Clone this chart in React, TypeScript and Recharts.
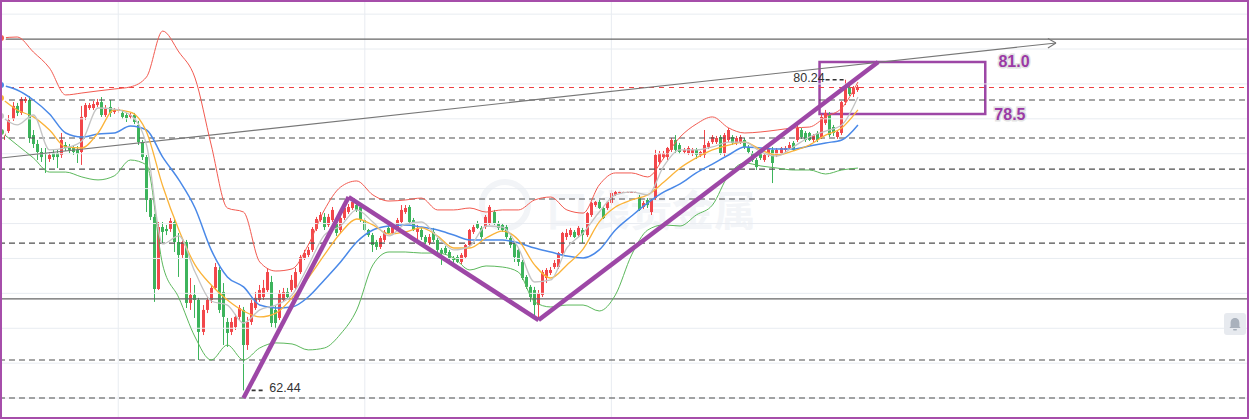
import React from 'react';
import {
  ComposedChart,
  Bar,
  Line,
  XAxis,
  YAxis,
  ReferenceLine,
  ReferenceArea,
  ReferenceDot,
} from 'recharts';

const W = 1249;
const H = 419;
const SLOTS = 309;

// [open, high, low, close]
const candles: [number, number, number, number][] = [
  [77.30, 77.48, 76.79, 76.96], [77.02, 77.42, 76.79, 77.30], [77.30, 78.22, 77.19, 77.93], [77.99, 78.96, 77.88, 78.74],
  [78.74, 78.91, 78.16, 78.34], [78.34, 79.25, 78.22, 79.14], [79.02, 79.25, 78.91, 79.14], [79.08, 79.31, 76.62, 76.90],
  [77.07, 77.36, 76.33, 76.56], [76.56, 76.79, 75.64, 76.10], [76.10, 76.33, 75.53, 75.81], [76.04, 76.33, 74.90, 75.99],
  [75.70, 76.10, 75.53, 75.93], [76.04, 76.22, 75.64, 75.81], [76.04, 76.22, 75.18, 75.81], [75.93, 77.19, 75.76, 76.79],
  [76.50, 76.67, 76.16, 76.33], [76.39, 76.56, 76.04, 76.22], [76.33, 76.44, 75.93, 76.10], [76.22, 76.44, 75.47, 75.99],
  [76.10, 78.74, 75.36, 78.11], [78.11, 78.91, 77.93, 78.79], [78.62, 78.91, 78.51, 78.79], [78.62, 79.02, 78.51, 78.85],
  [78.79, 79.14, 78.68, 78.96], [78.96, 79.25, 78.11, 78.22], [78.22, 78.79, 78.11, 78.62], [78.68, 79.08, 78.11, 78.34],
  [78.39, 78.62, 78.28, 78.51], [78.45, 78.68, 78.34, 78.56], [78.34, 78.45, 77.99, 78.11], [78.22, 78.34, 77.82, 78.05],
  [78.11, 78.34, 77.99, 78.22], [78.22, 78.34, 77.70, 77.82], [77.65, 77.88, 76.50, 76.67], [76.67, 76.79, 75.64, 75.81],
  [75.81, 75.93, 72.66, 73.35], [73.35, 73.46, 72.20, 72.38], [72.38, 72.55, 67.51, 68.25], [68.25, 72.09, 68.19, 71.80],
  [71.80, 72.09, 70.89, 71.52], [71.69, 71.92, 71.34, 71.57], [71.69, 72.32, 71.52, 72.15], [72.09, 72.32, 70.37, 70.94],
  [70.94, 71.46, 68.94, 70.20], [70.20, 71.06, 70.03, 70.94], [70.94, 71.06, 67.16, 67.45], [67.45, 68.88, 67.05, 67.91],
  [67.91, 68.48, 66.59, 67.62], [67.62, 67.74, 64.18, 65.79], [65.79, 67.33, 65.61, 67.05], [67.05, 67.79, 66.87, 67.62],
  [67.62, 68.48, 67.45, 68.31], [68.31, 69.74, 68.19, 69.51], [69.34, 69.51, 66.87, 67.05], [68.08, 68.59, 65.04, 66.65],
  [66.36, 66.59, 64.93, 65.73], [65.79, 66.59, 65.61, 66.36], [66.07, 66.82, 65.90, 66.65], [66.65, 67.33, 66.47, 67.16],
  [67.05, 67.22, 62.44, 65.04], [65.04, 66.65, 64.76, 66.36], [66.36, 67.62, 66.19, 67.45], [67.16, 68.08, 67.05, 67.74],
  [67.62, 68.48, 67.51, 68.19], [67.79, 68.77, 67.62, 68.31], [68.19, 69.45, 68.08, 69.22], [68.65, 69.00, 66.07, 66.30],
  [67.05, 67.33, 66.02, 66.30], [66.59, 68.19, 66.47, 68.02], [67.62, 68.31, 67.51, 68.08], [68.08, 68.31, 67.68, 67.79],
  [68.19, 69.05, 68.08, 68.77], [68.31, 69.45, 68.19, 69.22], [69.22, 70.20, 69.11, 70.08], [70.03, 70.49, 69.91, 70.31],
  [70.20, 70.66, 70.08, 70.49], [70.49, 71.80, 70.37, 71.69], [71.69, 72.38, 71.57, 72.26], [72.20, 72.66, 72.09, 72.49],
  [72.38, 72.60, 71.63, 71.80], [71.92, 72.55, 71.80, 72.38], [72.20, 72.95, 72.09, 72.78], [72.09, 72.20, 71.29, 71.46],
  [71.63, 72.43, 71.46, 72.32], [72.32, 73.01, 72.20, 72.89], [72.66, 73.12, 72.55, 72.95], [72.89, 73.35, 72.78, 73.24],
  [73.06, 73.18, 72.66, 72.78], [72.95, 73.06, 72.09, 72.20], [72.20, 72.32, 71.57, 71.63], [71.63, 71.69, 71.23, 71.34],
  [71.34, 71.46, 70.37, 70.77], [70.94, 71.06, 70.49, 70.66], [70.66, 71.29, 70.54, 71.17], [71.06, 71.63, 70.94, 71.52],
  [71.75, 71.86, 71.40, 71.46], [71.46, 71.92, 71.34, 71.80], [71.75, 72.32, 71.63, 72.20], [72.09, 73.06, 71.97, 72.78],
  [72.66, 73.06, 72.55, 72.89], [72.95, 73.06, 71.97, 72.09], [72.20, 72.32, 71.57, 71.63], [71.52, 71.92, 71.06, 71.75],
  [71.63, 71.75, 71.06, 71.23], [71.23, 71.34, 70.83, 70.94], [70.89, 71.40, 70.77, 71.23], [71.52, 71.75, 70.94, 71.06],
  [71.06, 71.17, 70.31, 70.49], [70.49, 70.60, 69.63, 70.31], [70.60, 70.71, 70.20, 70.31], [70.37, 70.49, 69.91, 70.03],
  [70.03, 70.14, 69.74, 69.91], [70.08, 70.20, 69.74, 69.80], [69.80, 70.31, 69.68, 70.20], [70.08, 70.83, 69.97, 70.77],
  [70.77, 71.69, 70.66, 71.63], [71.52, 71.92, 71.40, 71.80], [72.03, 72.15, 71.69, 71.75], [71.75, 71.86, 71.12, 71.23],
  [71.80, 72.49, 71.69, 72.38], [72.03, 73.06, 71.92, 72.95], [72.66, 72.78, 71.92, 72.03], [72.03, 72.15, 71.63, 71.75],
  [71.92, 72.03, 71.52, 71.63], [71.80, 71.92, 71.12, 71.23], [71.17, 71.29, 70.60, 70.77], [70.89, 71.00, 69.80, 70.08],
  [70.49, 70.60, 69.57, 69.80], [69.80, 69.91, 68.77, 68.88], [68.94, 69.05, 68.25, 68.37], [68.37, 68.48, 67.51, 67.79],
  [68.19, 68.37, 66.65, 67.33], [67.33, 68.19, 66.47, 68.02], [67.91, 69.34, 67.79, 69.22], [68.88, 69.45, 68.59, 69.34],
  [69.17, 69.51, 69.05, 69.34], [69.51, 69.91, 69.40, 69.74], [69.51, 70.37, 69.40, 70.31], [70.31, 71.52, 70.20, 71.46],
  [71.23, 71.69, 71.06, 71.46], [71.34, 71.75, 71.23, 71.63], [71.52, 71.63, 71.17, 71.23], [71.34, 71.86, 71.23, 71.75],
  [71.63, 71.75, 70.89, 71.34], [71.34, 72.66, 71.23, 72.60], [72.49, 73.24, 72.38, 73.18], [73.06, 73.29, 72.95, 73.24],
  [73.24, 73.35, 72.83, 72.89], [72.89, 73.01, 72.26, 72.32], [72.89, 73.29, 72.78, 73.24], [73.18, 73.92, 73.06, 73.75],
  [73.64, 73.87, 73.58, 73.81], [73.81, 73.82, 73.80, 73.81], [73.81, 73.82, 73.80, 73.81], [73.81, 73.82, 73.80, 73.81],
  [73.81, 73.82, 73.80, 73.81], [73.81, 73.82, 73.80, 73.81], [73.52, 73.64, 72.72, 72.78], [72.95, 73.29, 72.83, 73.18],
  [73.35, 73.46, 72.89, 73.06], [72.66, 73.41, 72.49, 73.35], [73.46, 76.22, 73.35, 75.93], [75.53, 76.16, 75.41, 76.04],
  [75.81, 76.16, 75.70, 76.04], [75.81, 76.39, 75.64, 76.33], [76.22, 76.90, 76.10, 76.79], [76.79, 77.07, 76.04, 76.22],
  [76.50, 76.62, 75.99, 76.10], [76.10, 76.33, 75.99, 76.22], [76.04, 76.44, 75.93, 76.33], [76.04, 76.33, 75.87, 76.22],
  [76.22, 76.33, 75.70, 75.93], [75.93, 76.16, 75.81, 76.10], [75.93, 77.36, 75.76, 76.50], [76.39, 76.73, 76.27, 76.62],
  [76.67, 77.07, 76.56, 76.96], [76.67, 77.02, 76.56, 76.90], [76.96, 77.07, 75.93, 76.04], [76.04, 77.19, 75.87, 77.07],
  [76.79, 77.48, 76.67, 77.36], [76.96, 77.07, 76.50, 76.62], [76.62, 77.02, 76.50, 76.90], [76.67, 77.07, 76.56, 76.96],
  [76.79, 76.90, 76.27, 76.39], [76.39, 76.50, 75.99, 76.10], [76.04, 76.16, 75.53, 75.64], [75.64, 75.76, 75.07, 75.24],
  [76.04, 76.16, 75.64, 75.76], [75.64, 76.04, 75.53, 75.93], [75.93, 76.39, 75.81, 76.33], [76.22, 76.39, 74.32, 75.47],
  [75.93, 76.33, 75.81, 76.22], [76.04, 76.39, 75.93, 76.33], [76.22, 76.44, 76.10, 76.33], [76.33, 76.67, 76.22, 76.50],
  [76.62, 76.73, 76.16, 76.22], [76.79, 77.65, 76.67, 77.48], [77.36, 77.48, 76.85, 76.96], [77.19, 77.30, 76.67, 76.79],
  [77.19, 77.25, 76.73, 76.79], [76.79, 77.13, 76.67, 77.07], [77.19, 77.30, 76.67, 76.79], [76.96, 78.28, 76.85, 78.11],
  [77.76, 78.51, 77.65, 78.34], [78.22, 78.39, 76.96, 77.07], [77.53, 77.65, 77.02, 77.19], [76.96, 77.36, 76.85, 77.25],
  [77.19, 79.02, 77.07, 78.96], [78.96, 80.24, 78.79, 79.83], [79.83, 80.00, 79.31, 79.42], [79.42, 79.88, 79.25, 79.77],
  [79.65, 79.94, 79.54, 79.83],
];

// indicator lines, one value every `lineStep` candles
const lineStep = 4;
const upperBand = [
  82.63, 82.69, 81.83, 80.91, 79.37, 79.48, 79.60, 79.71, 79.83, 80.40, 83.03, 81.83, 80.34, 76.50,
  72.89, 72.66, 69.80, 69.28, 69.40, 70.77, 72.78, 74.09, 74.44, 73.64, 73.29, 73.35, 73.46, 72.78,
  72.78, 72.89, 72.66, 72.78, 72.78, 73.35, 73.52, 72.78, 72.60, 74.21, 74.90, 74.90, 74.67, 75.76,
  76.96, 77.70, 78.11, 77.48, 77.19, 77.25, 77.36, 77.48, 77.53, 78.11, 78.62, 80.11,
];
const midBand = [
  79.94, 79.65, 79.08, 78.28, 77.19, 76.96, 77.13, 77.19, 77.59, 77.36, 75.81, 74.50, 72.89, 70.49,
  68.94, 68.37, 67.33, 67.16, 67.22, 67.79, 68.77, 69.80, 70.94, 71.63, 71.86, 71.92, 71.80, 71.63,
  71.34, 71.06, 71.06, 71.06, 70.89, 70.60, 70.37, 70.14, 70.03, 70.49, 71.63, 72.43, 73.18, 73.81,
  74.27, 74.90, 75.41, 75.93, 76.39, 76.33, 76.27, 76.27, 76.44, 76.62, 76.79, 77.65,
];
const lowerBand = [
  77.25, 76.50, 75.76, 74.95, 74.95, 74.67, 74.50, 74.73, 75.64, 75.36, 69.63, 67.74, 65.50, 64.18,
  65.04, 64.18, 64.87, 65.16, 65.10, 64.76, 64.87, 65.67, 67.05, 69.63, 70.37, 70.37, 70.31, 70.31,
  70.03, 69.34, 69.57, 69.51, 69.22, 67.51, 67.22, 67.33, 67.33, 66.99, 67.91, 70.20, 71.63, 71.92,
  71.86, 72.49, 73.06, 74.78, 75.47, 75.30, 75.18, 75.07, 75.07, 74.84, 75.07, 75.18,
];
const ma10 = [
  79.19, 78.51, 78.11, 77.36, 76.39, 76.33, 77.19, 78.51, 78.39, 77.25, 74.15, 71.63, 69.63, 68.48,
  67.62, 66.99, 66.65, 66.87, 67.74, 68.88, 70.20, 71.46, 72.26, 71.92, 71.40, 71.52, 71.75, 71.29,
  70.60, 70.60, 71.17, 71.57, 71.06, 69.63, 68.88, 69.63, 70.54, 72.09, 72.95, 73.35, 73.64, 74.38,
  75.18, 75.76, 76.22, 76.50, 76.67, 76.22, 75.93, 76.16, 76.50, 77.07, 77.48, 78.51,
];
const ma5 = [
  78.16, 77.65, 78.22, 76.22, 76.33, 76.73, 78.62, 78.56, 78.22, 76.50, 70.83, 71.29, 69.22, 67.56,
  67.33, 66.30, 67.05, 67.33, 67.91, 69.57, 71.34, 71.86, 72.78, 72.09, 71.29, 71.97, 72.09, 71.23,
  70.49, 70.71, 71.86, 71.80, 70.60, 68.65, 68.77, 70.60, 71.46, 72.66, 73.64, 73.81, 73.64, 75.30,
  76.22, 76.22, 76.39, 76.67, 76.67, 76.10, 75.87, 76.39, 76.96, 77.30, 77.65, 79.25,
];

// levels and annotations (candle index, price)
const gridLevels = [62, 64, 66, 68, 70, 72, 74, 76, 78, 80, 82, 84];
const gridCandles = [29, 90, 151];
const dashedLevels = [79.08, 76.90, 75.12, 73.41, 70.88, 64.18, 62.0];
const solidLevels = [82.57, 67.68];
const lastPrice = 79.8;
const trendArrow = [{ x: 0, y: 75.76 }, { x: 261, y: 82.35 }];
const arrowWings = [
  [{ x: 259, y: 82.6 }, { x: 261, y: 82.35 }],
  [{ x: 259, y: 82.06 }, { x: 261, y: 82.35 }],
];
const purplePath = [
  { x: 60, y: 62.0 },
  { x: 86, y: 73.52 },
  { x: 133, y: 66.47 },
  { x: 217, y: 81.26 },
];
const targetBox = { x1: 203, x2: 243, top: 81.26, bottom: 78.28 };
const targetLabels = [
  { x: 247, y: 81.26, text: '81.0', dy: 5 },
  { x: 246, y: 78.28, text: '78.5', dy: 6 },
];
const highMark = { from: 204, to: 209, price: 80.24 };
const lowMark = { from: 62, to: 65, text: 66, price: 62.44 };

const RED = '#f2474b';
const GREEN = '#3db45c';
const PURPLE = '#9d47a6';

const rows = Array.from({ length: SLOTS }, (_, i) => {
  const c = candles[i];
  const j = i % lineStep === 0 ? i / lineStep : -1;
  const pick = (arr: number[]) => (j >= 0 && j < arr.length ? arr[j] : null);
  return {
    i,
    c: c ?? null,
    range: c ? [c[2], c[1]] : null,
    upper: pick(upperBand),
    mid: pick(midBand),
    lower: pick(lowerBand),
    ma10: pick(ma10),
    ma5: pick(ma5),
  };
});

function Candle(props: any) {
  const { x, y, width, height, payload } = props;
  if (!payload || !payload.c || height == null || isNaN(y)) return null;
  const [o, h, l, c] = payload.c;
  const top = Math.min(y, y + height);
  const span = Math.abs(height);
  const k = span / (h - l);
  const py = (v: number) => top + (h - v) * k;
  const left = Math.round(x + width / 2 - 1.5);
  const mid = left + 1.5;
  const color = c >= o ? RED : GREEN;
  const bTop = py(Math.max(o, c));
  const bh = Math.max(1, py(Math.min(o, c)) - bTop);
  return (
    <g>
      <line x1={mid} x2={mid} y1={top} y2={top + span} stroke={color} strokeWidth={1} />
      <rect x={left} y={bTop} width={3} height={bh} fill={color} />
    </g>
  );
}

const textTag =
  (text: string, opts: { dx: number; dy: number; anchor: string; size: number; color: string; bold?: boolean; halo?: boolean }) =>
  (p: any) => {
    const vb = p.viewBox || {};
    return (
      <text
        x={vb.x + opts.dx}
        y={vb.y + opts.dy}
        textAnchor={opts.anchor}
        fontSize={opts.size}
        fontWeight={opts.bold ? 700 : 400}
        fill={opts.color}
        stroke={opts.halo ? '#e2e2e2' : 'none'}
        strokeWidth={opts.halo ? 3 : 0}
        style={{ paintOrder: 'stroke', fontFamily: 'Arial, "Liberation Sans", sans-serif' }}
      >
        {text}
      </text>
    );
  };

function Bell() {
  return (
    <div
      style={{
        position: 'absolute',
        left: 1224,
        top: 313,
        width: 22,
        height: 22,
        borderRadius: 3,
        background: '#e7eaef',
      }}
    >
      <svg width="22" height="22" viewBox="0 0 22 22">
        <path d="M11 5 C7.8 5 6.6 7.6 6.6 10 L6.6 13.6 L5.4 15 L16.6 15 L15.4 13.6 L15.4 10 C15.4 7.6 14.2 5 11 5 Z" fill="#a9b1bc" />
        <rect x="9" y="16" width="4" height="1.6" rx="0.8" fill="#a9b1bc" />
      </svg>
    </div>
  );
}

export default function App() {
  return (
    <div style={{ position: 'absolute', left: 0, top: 0, width: W, height: H, background: '#fff', overflow: 'hidden' }}>
      {/* watermark */}
      <div style={{ position: 'absolute', left: 478, top: 178, width: 320, height: 60 }}>
        <svg width="320" height="60">
          <circle cx="27" cy="27" r="23" fill="none" stroke="#f2f4f7" strokeWidth="6" />
          <text x="68" y="48" fontSize="42" fontWeight={700} fill="#f3f5f8" style={{ fontFamily: '"Noto Sans CJK SC", sans-serif' }}>
            口袋贵金属
          </text>
        </svg>
      </div>
      <div style={{ position: 'absolute', left: -1, top: 0 }}>
        <ComposedChart width={W} height={H} data={rows} margin={{ top: 0, right: 0, bottom: 0, left: 0 }}>
          <XAxis dataKey="i" type="category" hide />
          <YAxis type="number" domain={[60.8, 84.81]} allowDataOverflow hide />
          {gridLevels.map((v) => (
            <ReferenceLine key={`g${v}`} y={v} stroke="#e8ecf1" strokeWidth={1} ifOverflow="visible" />
          ))}
          {gridCandles.map((v) => (
            <ReferenceLine key={`gv${v}`} x={v} stroke="#e8ecf1" strokeWidth={1} ifOverflow="visible" />
          ))}
          {dashedLevels.map((v) => (
            <ReferenceLine key={`d${v}`} y={v} stroke="#4f4f4f" strokeWidth={1.1} strokeDasharray="6 4" ifOverflow="visible" />
          ))}
          {solidLevels.map((v) => (
            <ReferenceLine key={`s${v}`} y={v} stroke="#666" strokeWidth={1.2} ifOverflow="visible" />
          ))}
          <ReferenceLine y={lastPrice} stroke="#ee3f43" strokeWidth={1.1} strokeDasharray="5 5" ifOverflow="visible" />
          <ReferenceLine segment={trendArrow} stroke="#777" strokeWidth={1.1} ifOverflow="visible" />
          {arrowWings.map((s, n) => (
            <ReferenceLine key={`w${n}`} segment={s} stroke="#777" strokeWidth={1.1} ifOverflow="visible" />
          ))}

          <Bar dataKey="range" shape={<Candle />} isAnimationActive={false} />

          <Line dataKey="upper" type="monotone" stroke="#f25a50" strokeWidth={1} dot={false} connectNulls isAnimationActive={false} />
          <Line dataKey="lower" type="monotone" stroke="#5cb85c" strokeWidth={1} dot={false} connectNulls isAnimationActive={false} />
          <Line dataKey="mid" type="monotone" stroke="#4a89e8" strokeWidth={1.5} dot={false} connectNulls isAnimationActive={false} />
          <Line dataKey="ma10" type="monotone" stroke="#fbb339" strokeWidth={1.3} dot={false} connectNulls isAnimationActive={false} />
          <Line dataKey="ma5" type="monotone" stroke="#c4c4c4" strokeWidth={1.3} dot={false} connectNulls isAnimationActive={false} />

          {purplePath.slice(1).map((p, n) => (
            <ReferenceLine
              key={`p${n}`}
              segment={[purplePath[n], p]}
              stroke={PURPLE}
              strokeWidth={4.5}
              ifOverflow="visible"
            />
          ))}
          <ReferenceArea
            x1={targetBox.x1}
            x2={targetBox.x2}
            y1={targetBox.bottom}
            y2={targetBox.top}
            fill="none"
            fillOpacity={0}
            stroke={PURPLE}
            strokeWidth={2.5}
            ifOverflow="visible"
          />
          {targetLabels.map((t) => (
            <ReferenceDot
              key={t.text}
              x={t.x}
              y={t.y}
              r={0}
              fill="none"
              stroke="none"
              ifOverflow="visible"
              label={textTag(t.text, { dx: -1, dy: t.dy, anchor: 'start', size: 16, color: '#9b3aa6', bold: true, halo: true })}
            />
          ))}

          <ReferenceLine
            segment={[{ x: highMark.from, y: highMark.price }, { x: highMark.to, y: highMark.price }]}
            stroke="#333"
            strokeWidth={1.6}
            strokeDasharray="4 3"
            ifOverflow="visible"
          />
          <ReferenceDot
            x={highMark.from}
            y={highMark.price}
            r={0}
            fill="none"
            stroke="none"
            ifOverflow="visible"
            label={textTag('80.24', { dx: -1, dy: 2, anchor: 'end', size: 12.5, color: '#333' })}
          />
          <ReferenceLine
            segment={[{ x: lowMark.from, y: lowMark.price }, { x: lowMark.to, y: lowMark.price }]}
            stroke="#333"
            strokeWidth={1.6}
            strokeDasharray="4 3"
            ifOverflow="visible"
          />
          <ReferenceDot
            x={lowMark.text}
            y={lowMark.price}
            r={0}
            fill="none"
            stroke="none"
            ifOverflow="visible"
            label={textTag('62.44', { dx: 1.5, dy: 2, anchor: 'start', size: 12.5, color: '#333' })}
          />
        </ComposedChart>
      </div>
      <Bell />
      <div
        style={{
          position: 'absolute',
          left: 0,
          top: 0,
          width: W,
          height: H,
          boxSizing: 'border-box',
          border: '2px solid #a64daa',
          pointerEvents: 'none',
        }}
      />
    </div>
  );
}
